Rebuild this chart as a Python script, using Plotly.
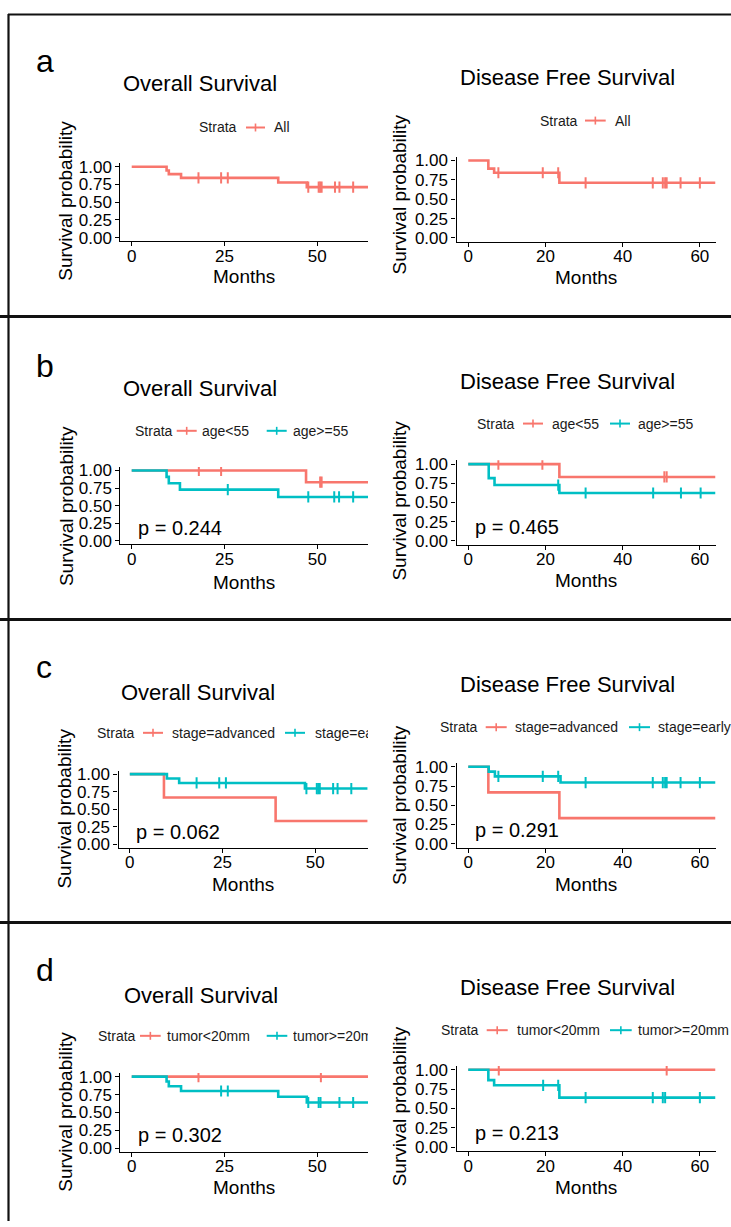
import bisect
import plotly.graph_objects as go

# ---------------- data ----------------
panel_letters = ["a", "b", "c", "d"]
plot_titles = ["Overall Survival", "Disease Free Survival"]
legend_title = "Strata"
x_title = "Months"
y_title = "Survival probability"

strata_all = ["All"]
strata_age = ["age<55", "age>=55"]
strata_stage = ["stage=advanced", "stage=early"]
strata_tumor = ["tumor<20mm", "tumor>=20mm"]

os_pvalues = [None, "p = 0.244", "p = 0.062", "p = 0.302"]
dfs_pvalues = [None, "p = 0.465", "p = 0.291", "p = 0.213"]

os_x_ticks = [0, 25, 50]
dfs_x_ticks = [0, 20, 40, 60]
y_ticks = [0, 0.25, 0.5, 0.75, 1.0]
y_tick_labels = ["0.00", "0.25", "0.50", "0.75", "1.00"]

last_follow_up = 64.05  # months

# panel a : all patients
os_all_t = [0, 9.4, 10.0, 13.3, 39.5, 47.2]
os_all_s = [1.0, 0.947, 0.895, 0.842, 0.777, 0.712]
os_all_c = [18.0, 24.1, 25.9, 47.6, 50.4, 50.8, 51.2, 54.8, 56.0, 59.7]
dfs_all_t = [0, 5.2, 6.7, 23.6]
dfs_all_s = [1.0, 0.895, 0.842, 0.712]
dfs_all_c = [7.8, 19.3, 23.3, 30.4, 47.8, 50.4, 51.0, 51.4, 55.0, 60.0]

# panel b : age
os_age_lt_t = [0, 47.0]
os_age_lt_s = [1.0, 0.833]
os_age_lt_c = [18.1, 24.1, 50.8, 51.2]
os_age_ge_t = [0, 9.4, 10.0, 13.0, 39.5]
os_age_ge_s = [1.0, 0.909, 0.818, 0.727, 0.623]
os_age_ge_c = [25.9, 47.6, 54.6, 55.9, 59.7]
dfs_age_lt_t = [0, 23.6]
dfs_age_lt_s = [1.0, 0.833]
dfs_age_lt_c = [7.8, 19.2, 50.8, 51.4]
dfs_age_ge_t = [0, 5.3, 6.8, 23.6]
dfs_age_ge_s = [1.0, 0.818, 0.727, 0.623]
dfs_age_ge_c = [23.3, 30.4, 47.9, 55.1, 60.2]

# panel c : stage
os_adv_t = [0, 9.2, 39.3]
os_adv_s = [1.0, 0.667, 0.333]
os_adv_c = []
os_early_t = [0, 10.0, 13.3, 47.2]
os_early_s = [1.0, 0.9375, 0.875, 0.795]
os_early_c = [18.0, 24.1, 25.9, 47.6, 50.4, 50.8, 51.2, 54.8, 56.0, 59.7]
dfs_adv_t = [0, 5.2, 23.6]
dfs_adv_s = [1.0, 0.667, 0.333]
dfs_adv_c = []
dfs_early_t = [0, 5.3, 6.9, 23.9]
dfs_early_s = [1.0, 0.9375, 0.875, 0.795]
dfs_early_c = [7.8, 19.3, 23.3, 30.4, 47.8, 50.4, 51.0, 51.4, 55.0, 60.0]

# panel d : tumour size
os_small_t = [0]
os_small_s = [1.0]
os_small_c = [18.0, 51.0]
os_large_t = [0, 9.4, 10.0, 13.3, 39.5, 47.2]
os_large_s = [1.0, 0.933, 0.867, 0.80, 0.72, 0.64]
os_large_c = [24.1, 25.9, 47.6, 50.4, 50.9, 56.0, 59.7]
dfs_small_t = [0]
dfs_small_s = [1.0]
dfs_small_c = [7.9, 51.4]
dfs_large_t = [0, 5.2, 6.7, 23.6]
dfs_large_s = [1.0, 0.867, 0.80, 0.64]
dfs_large_c = [19.4, 23.3, 30.4, 47.8, 50.4, 51.0, 60.0]

# ---------------- styling / layout ----------------
W, H = 731, 1227
RED = "#F8766D"
TEAL = "#00BFC4"
COLORS = [RED, TEAL]
FONT = "Liberation Sans, Arial, Helvetica, sans-serif"
TITLE_DY = -1


def fx(p):
    return p / W


def fy(p):
    return 1 - p / H


subplots = [
    dict(curves=[(os_all_t, os_all_s, os_all_c)], strata=strata_all, p=os_pvalues[0],
         title=plot_titles[0], ticks=os_x_ticks,
         xd=(120.4, 368), yd=(158.7, 237.6), xr=(-3.05, 63.7), tpos=(200, 79.5),
         leg=(122.7, 199, [(246, 265, 274, None)]), xt=(244.3, 273.5), yt=(66, 196.7)),
    dict(curves=[(dfs_all_t, dfs_all_s, dfs_all_c)], strata=strata_all, p=dfs_pvalues[0],
         title=plot_titles[1], ticks=dfs_x_ticks,
         xd=(456.5, 715.5), yd=(152.1, 238.2), xr=(-3.05, 64.05), tpos=(567.5, 73.3),
         leg=(115.7, 540, [(585, 605.7, 615, None)]), xt=(585.5, 274), yt=(399.5, 190.8)),
    dict(curves=[(os_age_lt_t, os_age_lt_s, os_age_lt_c), (os_age_ge_t, os_age_ge_s, os_age_ge_c)],
         strata=strata_age, p=os_pvalues[1], title=plot_titles[0], ticks=os_x_ticks,
         xd=(120.4, 368), yd=(465.5, 543.6), xr=(-3.05, 63.7), tpos=(200, 387.5),
         leg=(429, 135, [(176.7, 196.7, 201.7, None), (266.7, 286.7, 293, None)]),
         xt=(244.3, 581.7), yt=(66, 505)),
    dict(curves=[(dfs_age_lt_t, dfs_age_lt_s, dfs_age_lt_c), (dfs_age_ge_t, dfs_age_ge_s, dfs_age_ge_c)],
         strata=strata_age, p=dfs_pvalues[1], title=plot_titles[1], ticks=dfs_x_ticks,
         xd=(456.5, 715.5), yd=(458.8, 543.9), xr=(-3.05, 64.05), tpos=(567.5, 380.3),
         leg=(421.7, 476.7, [(523, 543, 551.7, None), (610, 630, 638, None)]),
         xt=(585.5, 580.3), yt=(399.5, 500)),
    dict(curves=[(os_adv_t, os_adv_s, os_adv_c), (os_early_t, os_early_s, os_early_c)],
         strata=strata_stage, p=os_pvalues[2], title=plot_titles[0], ticks=os_x_ticks,
         xd=(118.5, 368), yd=(772.2, 850.2), xr=(-3.05, 64.2), tpos=(198, 693.8),
         leg=(734, 96.7, [(143, 163, 171.7, None), (285, 305, 315, 368)]),
         xt=(242.8, 887.5), yt=(64.5, 811)),
    dict(curves=[(dfs_adv_t, dfs_adv_s, dfs_adv_c), (dfs_early_t, dfs_early_s, dfs_early_c)],
         strata=strata_stage, p=dfs_pvalues[2], title=plot_titles[1], ticks=dfs_x_ticks,
         xd=(456.5, 715.5), yd=(764.4, 849.9), xr=(-3.05, 64.05), tpos=(567.5, 686.2),
         leg=(728.3, 440, [(485.7, 506.7, 515, None), (629, 650, 658, None)]),
         xt=(585.5, 886.7), yt=(399.5, 807.5)),
    dict(curves=[(os_small_t, os_small_s, os_small_c), (os_large_t, os_large_s, os_large_c)],
         strata=strata_tumor, p=os_pvalues[3], title=plot_titles[0], ticks=os_x_ticks,
         xd=(120.4, 368), yd=(1077.6, 1157.3), xr=(-3.05, 63.7), tpos=(200.5, 1000),
         leg=(1040, 98, [(140, 160.7, 166.7, None), (266.7, 287.3, 293, 368)]),
         xt=(244.2, 1193.3), yt=(66, 1116.7)),
    dict(curves=[(dfs_small_t, dfs_small_s, dfs_small_c), (dfs_large_t, dfs_large_s, dfs_large_c)],
         strata=strata_tumor, p=dfs_pvalues[3], title=plot_titles[1], ticks=dfs_x_ticks,
         xd=(456.5, 715.5), yd=(1070.4, 1156.4), xr=(-3.05, 64.05), tpos=(567.5, 992),
         leg=(1034.3, 441, [(486.7, 507.7, 516.7, None), (610, 631.7, 638, None)]),
         xt=(585.5, 1193.3), yt=(399.5, 1111.7)),
]

letter_pos = [(33.5, 55.6), (33.5, 363.9), (33.5, 667.2), (33.5, 973.9)]


def step_value(times, surv, t):
    i = bisect.bisect_right(times, t) - 1
    return surv[max(i, 0)]


fig = go.Figure()
annotations = []
shapes = []

for k, sp in enumerate(subplots):
    n = "" if k == 0 else str(k + 1)
    xa, ya = "x" + n, "y" + n
    for j, (times, surv, cens) in enumerate(sp["curves"]):
        color = COLORS[j]
        fig.add_trace(go.Scatter(
            x=list(times) + [last_follow_up], y=list(surv) + [surv[-1]],
            mode="lines", line=dict(shape="hv", color=color, width=2.6),
            xaxis=xa, yaxis=ya, showlegend=False, hoverinfo="skip",
            name=sp["strata"][j]))
        if cens:
            fig.add_trace(go.Scatter(
                x=cens, y=[step_value(times, surv, c) for c in cens],
                mode="markers",
                marker=dict(symbol="line-ns", size=8, color=color,
                            line=dict(width=2, color=color)),
                xaxis=xa, yaxis=ya, showlegend=False, hoverinfo="skip",
                name=sp["strata"][j] + " censored"))

    axis_common = dict(showline=True, linecolor="black", linewidth=1.2,
                       ticks="outside", ticklen=4, tickwidth=1.2, tickcolor="black",
                       showgrid=False, zeroline=False,
                       tickfont=dict(family=FONT, size=17, color="black"))
    fig.layout["xaxis" + n] = dict(
        domain=[fx(sp["xd"][0]), fx(sp["xd"][1])], range=list(sp["xr"]),
        anchor=ya, tickvals=sp["ticks"], ticktext=[str(t) for t in sp["ticks"]],
        ticklabelstandoff=-5, **axis_common)
    fig.layout["yaxis" + n] = dict(
        domain=[fy(sp["yd"][1]), fy(sp["yd"][0])], range=[-0.05, 1.05],
        anchor=xa, tickvals=y_ticks, ticktext=y_tick_labels, **axis_common)

    annotations.append(dict(text=sp["title"], x=fx(sp["tpos"][0]), y=fy(sp["tpos"][1] + TITLE_DY),
                            xref="paper", yref="paper", showarrow=False,
                            xanchor="center", yanchor="middle",
                            font=dict(family=FONT, size=22, color="black")))
    annotations.append(dict(text=x_title, x=fx(sp["xt"][0]), y=fy(sp["xt"][1]),
                            xref="paper", yref="paper", showarrow=False,
                            xanchor="center", yanchor="middle",
                            font=dict(family=FONT, size=19, color="black")))
    annotations.append(dict(text=y_title, x=fx(sp["yt"][0]), y=fy(sp["yt"][1]),
                            xref="paper", yref="paper", showarrow=False, textangle=-90,
                            xanchor="center", yanchor="middle",
                            font=dict(family=FONT, size=19, color="black")))
    if sp["p"]:
        annotations.append(dict(text=sp["p"], x=1.1, y=0.18, xref=xa, yref=ya,
                                showarrow=False, xanchor="left", yanchor="middle",
                                font=dict(family=FONT, size=20, color="black")))
    ly, sx, items = sp["leg"]
    annotations.append(dict(text=legend_title, x=fx(sx - 2), y=fy(ly), xref="paper", yref="paper",
                            showarrow=False, xanchor="left", yanchor="middle",
                            font=dict(family=FONT, size=14, color="#1a1a1a")))
    for j, (s0, s1, tx, clip) in enumerate(items):
        color = COLORS[j]
        shapes.append(dict(type="line", xref="paper", yref="paper",
                           x0=fx(s0), x1=fx(s1), y0=fy(ly), y1=fy(ly),
                           line=dict(color=color, width=2)))
        mid = (s0 + s1) / 2
        shapes.append(dict(type="line", xref="paper", yref="paper",
                           x0=fx(mid), x1=fx(mid), y0=fy(ly - 4), y1=fy(ly + 4),
                           line=dict(color=color, width=1.6)))
        ann = dict(text=sp["strata"][j], x=fx(tx - 2), y=fy(ly), xref="paper", yref="paper",
                   showarrow=False, xanchor="left", yanchor="middle", align="left",
                   font=dict(family=FONT, size=14, color="#1a1a1a"))
        if clip:
            ann["width"] = clip - tx
        annotations.append(ann)

for letter, (lx, ly) in zip(panel_letters, letter_pos):
    annotations.append(dict(text=letter, x=fx(lx), y=fy(ly), xref="paper", yref="paper",
                            showarrow=False, xanchor="left", yanchor="middle",
                            font=dict(family=FONT, size=32, color="black")))

shapes.append(dict(type="line", xref="paper", yref="paper", x0=fx(8), x1=1, y0=fy(8.5), y1=fy(8.5),
                   line=dict(color="#111111", width=2)))
shapes.append(dict(type="line", xref="paper", yref="paper", x0=fx(8.5), x1=fx(8.5), y0=fy(8), y1=0,
                   line=dict(color="#111111", width=2.2)))
for sep in (313.5, 619.5, 925.5):
    shapes.append(dict(type="line", xref="paper", yref="paper", x0=0, x1=1, y0=fy(sep), y1=fy(sep),
                       line=dict(color="#111111", width=3)))

fig.update_layout(width=W, height=H, margin=dict(l=0, r=0, t=0, b=0),
                  paper_bgcolor="white", plot_bgcolor="white",
                  showlegend=False, annotations=annotations, shapes=shapes,
                  font=dict(family=FONT, color="black"))

fig.write_html("out.html",
               post_script="document.body.style.margin='0px';document.body.style.overflow='hidden';",
               config={"displayModeBar": False})
